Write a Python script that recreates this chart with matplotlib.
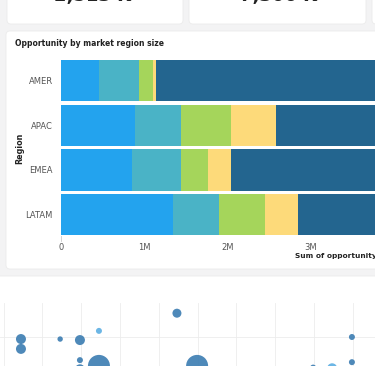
import numpy as np
import matplotlib
matplotlib.use('Agg')
import matplotlib.pyplot as plt
from matplotlib.patches import FancyBboxPatch

# bar chart data (values in millions)
regions = ['AMER', 'APAC', 'EMEA', 'LATAM']
size_names = ['XS', 'S', 'M', 'L', 'XL']
seg_xs = [0.46, 0.89, 0.85, 1.35]
seg_s = [0.48, 0.55, 0.59, 0.55]
seg_m = [0.17, 0.60, 0.33, 0.55]
seg_l = [0.03, 0.54, 0.27, 0.39]
seg_xl = [3.40, 1.90, 2.40, 1.40]
seg_colors = ['#23a3ee', '#4ab3c6', '#a5d55b', '#fdda7a', '#23658f']
x_ticks = [0, 1, 2, 3]
x_ticklabels = ['0', '1M', '2M', '3M']

# scatter data below (partly visible)
sc_x = [0.45, 0.45, 1.46, 1.97, 2.46, 1.97, 2.46, 4.47, 4.99, 1.97, 7.98, 8.47, 8.98, 8.98]
sc_y = [0.94, 0.65, 0.94, 0.91, 1.18, 0.32, 0.15, 1.70, 0.15, 0.05, 0.10, 0.08, 1.00, 0.26]
sc_r = [5, 5, 2.7, 5, 3, 3, 11, 4.5, 11, 5, 3, 5, 3, 3]
sc_light = [0, 0, 0, 0, 1, 0, 0, 0, 0, 0, 0, 1, 0, 0]

W, H = 375, 366
fig = plt.figure(figsize=(W / 100, H / 100), dpi=100)
fig.patch.set_facecolor('#f3f3f4')


def px_axes(left, top, right, bottom):
    return fig.add_axes([left / W, 1 - bottom / H, (right - left) / W, (bottom - top) / H])


# card backgrounds drawn in pixel coords
bg = fig.add_axes([0, 0, 1, 1])
bg.set_xlim(0, W)
bg.set_ylim(H, 0)
bg.axis('off')
bg.patch.set_alpha(0)
for (x0, y0, x1, y1) in [(7, -20, 183, 24), (189, -20, 366, 24), (372, -20, 400, 24),
                         (6, 31, 400, 269), (-10, 276, 400, 400)]:
    bg.add_patch(FancyBboxPatch((x0, y0), x1 - x0, y1 - y0,
                                boxstyle='round,pad=0,rounding_size=4',
                                fc='white', ec='#ebebeb', lw=0.6))
bg.text(93, -4.5, '2,513 K', ha='center', va='center', fontsize=13, fontweight='bold', color='#222222')
bg.text(278, -4.5, '7,306 K', ha='center', va='center', fontsize=13, fontweight='bold', color='#222222')
bg.text(15, 43, 'Opportunity by market region size', ha='left', va='center',
        fontsize=5.5, fontweight='bold', color='#222222')
bg.text(20, 148, 'Region', ha='center', va='center', rotation=90,
        fontsize=5.8, fontweight='bold', color='#222222')
bg.text(295, 256, 'Sum of opportunity', ha='left', va='center',
        fontsize=5.3, fontweight='bold', color='#222222')
bg.plot([61, 61], [236, 241], color='#cccccc', lw=0.6)

# stacked bar chart
ax = px_axes(61, 58.2, 61 + 4.5 * 83.3, 237)
y = np.arange(len(regions))
left = np.zeros(len(regions))
for vals, col in zip([seg_xs, seg_s, seg_m, seg_l, seg_xl], seg_colors):
    ax.barh(y, vals, left=left, height=0.92, color=col, lw=0)
    left += np.array(vals)
ax.set_xlim(0, 4.5)
ax.set_ylim(len(regions) - 0.5, -0.5)
ax.set_yticks(y)
ax.set_yticklabels(regions)
ax.set_xticks(x_ticks)
ax.set_xticklabels(x_ticklabels)
ax.tick_params(axis='y', length=0, pad=6, labelsize=6.0, labelcolor='#555555')
ax.tick_params(axis='x', length=0, pad=4.5, labelsize=6.0, labelcolor='#555555')
for s in ax.spines.values():
    s.set_visible(False)
ax.set_facecolor('none')

# scatter chart (cut off at bottom)
ax2 = px_axes(0, 303, W, 400)
ax2.set_xlim(-3.5 / 38.8, (W - 3.5) / 38.8)
ax2.set_ylim(1 - 63 / 34, 2)
cols = ['#5fb0e3' if l else '#3f7fb3' for l in sc_light]
ax2.scatter(sc_x, sc_y, s=(1.44 * np.array(sc_r)) ** 2, c=cols, alpha=0.92, lw=0, zorder=3)
ax2.set_xticks(np.arange(0, 10))
ax2.set_yticks([1])
ax2.grid(True, color='#ececec', lw=0.6)
ax2.tick_params(length=0, labelbottom=False, labelleft=False)
for s in ax2.spines.values():
    s.set_visible(False)
ax2.set_facecolor('none')

fig.savefig('out.png', dpi=100, facecolor=fig.get_facecolor())
